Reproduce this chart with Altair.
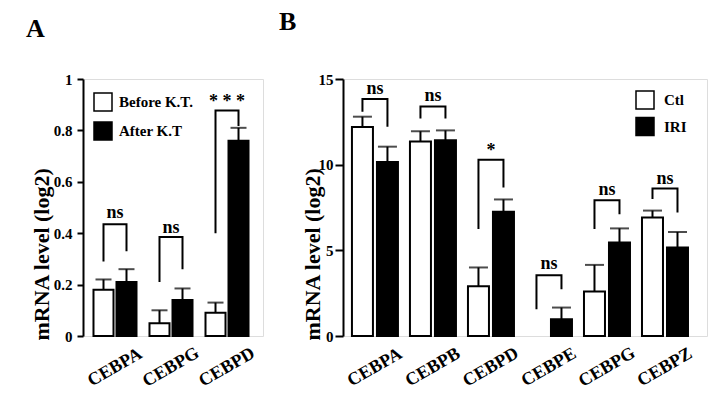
import altair as alt
import pandas as pd

FONT = "Liberation Serif, Times New Roman, serif"

# ---------------- Panel A ----------------
genes_a = ["CEBPA", "CEBPG", "CEBPD"]
groups_a = ["Before K.T.", "After K.T"]
before_kt = [0.18, 0.05, 0.09]
before_kt_err = [0.04, 0.05, 0.04]
after_kt = [0.21, 0.14, 0.76]
after_kt_err = [0.05, 0.045, 0.05]
bracket_a_left = [0.29, 0.21, 0.40]
bracket_a_top = [0.435, 0.385, 0.877]
bracket_a_right = [0.33, 0.26, 0.817]
sig_a = ["ns", "ns", "* * *"]
sig_a_y = [0.478, 0.42, 0.91]
ticks_a = [0, 0.2, 0.4, 0.6, 0.8, 1]

# ---------------- Panel B ----------------
genes_b = ["CEBPA", "CEBPB", "CEBPD", "CEBPE", "CEBPG", "CEBPZ"]
groups_b = ["Ctl", "IRI"]
ctl = [12.2, 11.35, 2.9, None, 2.6, 6.92]
ctl_err = [0.6, 0.6, 1.1, None, 1.55, 0.4]
iri = [10.15, 11.42, 7.25, 0.98, 5.46, 5.17]
iri_err = [0.9, 0.58, 0.72, 0.68, 0.82, 0.9]
bracket_b_left = [13.09, 12.7, 6.24, 1.56, 6.24, 7.99]
bracket_b_top = [13.83, 13.4, 10.29, 3.55, 7.93, 8.61]
bracket_b_right = [12.21, 12.7, 8.67, 2.73, 7.11, 7.21]
sig_b = ["ns", "ns", "*", "ns", "ns", "ns"]
sig_b_y = [14.42, 14.0, 10.8, 4.19, 8.53, 9.16]
ticks_b = [0, 5, 10, 15]


def panel(letter, genes, groups, v0, e0, v1, e1, bl, bt, br, sig, sig_y,
          ymax, yticks, fmt, width, height, x_pi, x_po, x_align, off_pi,
          cap, legend_x, legend_y, row_pad, label_off, title_x, tick_size,
          label_pad, letter_dx, letter_offset):
    rows = []
    for i, g in enumerate(genes):
        for grp, vals, errs in ((groups[0], v0, e0), (groups[1], v1, e1)):
            v = vals[i]
            e = errs[i]
            rows.append({
                "gene": g, "group": grp, "value": v,
                "top": (v + e) if (v is not None and e is not None) else None,
            })
    bars_df = pd.DataFrame(rows)

    br_rows = []
    for i, g in enumerate(genes):
        br_rows += [
            {"gene": g, "group": groups[0], "value": bl[i], "ord": 0},
            {"gene": g, "group": groups[0], "value": bt[i], "ord": 1},
            {"gene": g, "group": groups[1], "value": bt[i], "ord": 2},
            {"gene": g, "group": groups[1], "value": br[i], "ord": 3},
        ]
    br_df = pd.DataFrame(br_rows)
    sig_df = pd.DataFrame({"gene": genes, "sig": sig, "value": sig_y})

    x_enc = alt.X(
        "gene:N",
        scale=alt.Scale(domain=genes, paddingInner=x_pi, paddingOuter=x_po, align=x_align),
        axis=alt.Axis(title=None, labelAngle=-30, labelAlign="center",
                      labelBaseline="middle", labelPadding=31, ticks=False,
                      domain=False, labelFont=FONT, labelFontWeight="bold",
                      labelFontSize=18, labelColor="black"),
    )
    xoff = alt.XOffset("group:N", scale=alt.Scale(domain=groups, paddingInner=off_pi, paddingOuter=0))
    y_scale = alt.Scale(domain=[0, ymax], nice=False, zero=True)
    y_axis = alt.Axis(
        values=yticks, format=fmt, title="mRNA level (log2)", grid=False,
        labelFont=FONT, labelFontWeight="bold", labelFontSize=15, labelColor="black",
        labelPadding=label_pad, tickSize=tick_size, tickWidth=2, tickColor="black",
        domainColor="black", domainWidth=2,
        titleFont=FONT, titleFontWeight="bold", titleFontSize=22, titleColor="black",
        titleAngle=-90, titleAlign="left", titleBaseline="middle",
        titleX=title_x, titleY=height + 4,
    )

    bars = alt.Chart(bars_df).mark_bar(stroke="black", strokeWidth=2, strokeJoin="miter").encode(
        x=x_enc, xOffset=xoff,
        y=alt.Y("value:Q", scale=y_scale, axis=y_axis),
        fill=alt.Fill("group:N", scale=alt.Scale(domain=groups, range=["white", "black"]),
                      legend=alt.Legend(title=None, orient="none", legendX=legend_x,
                                        legendY=legend_y, symbolType="square",
                                        symbolSize=324, symbolStrokeColor="black",
                                        symbolStrokeWidth=1.5, labelFont=FONT,
                                        labelFontWeight="bold", labelFontSize=15,
                                        labelColor="black", rowPadding=row_pad,
                                        labelOffset=label_off, padding=0)),
    )
    err_rule = alt.Chart(bars_df).mark_rule(color="black", strokeWidth=2).encode(
        x=x_enc, xOffset=xoff,
        y=alt.Y("value:Q", scale=y_scale, axis=y_axis), y2="top:Q",
    )
    err_cap = alt.Chart(bars_df).mark_tick(color="black", thickness=2, size=cap).encode(
        x=x_enc, xOffset=xoff,
        y=alt.Y("top:Q", scale=y_scale, axis=y_axis),
    )
    brackets = alt.Chart(br_df).mark_line(color="black", strokeWidth=2, strokeJoin="miter").encode(
        x=x_enc, xOffset=xoff,
        y=alt.Y("value:Q", scale=y_scale, axis=y_axis),
        detail="gene:N", order="ord:Q",
    )
    texts = alt.Chart(sig_df).mark_text(font=FONT, fontWeight="bold", fontSize=18,
                                        baseline="middle", color="black").encode(
        x=x_enc,
        y=alt.Y("value:Q", scale=y_scale, axis=y_axis),
        text="sig:N",
    )
    return alt.layer(bars, err_rule, err_cap, brackets, texts).properties(
        width=width, height=height,
        title=alt.TitleParams(letter, anchor="start", frame="group", dx=letter_dx,
                              offset=letter_offset, fontSize=26, font=FONT,
                              fontWeight="bold", baseline="alphabetic", color="black"),
    )


chart_a = panel("A", genes_a, groups_a, before_kt, before_kt_err, after_kt, after_kt_err,
                bracket_a_left, bracket_a_top, bracket_a_right, sig_a, sig_a_y,
                1, ticks_a, ".1~f", 180, 257, 0.232, 0.223, 0.42, 0.13,
                16, 10, 13, 5, 6, -42, 6, 5, -57, 9)

chart_b = panel("B", genes_b, groups_b, ctl, ctl_err, iri, iri_err,
                bracket_b_left, bracket_b_top, bracket_b_right, sig_b, sig_b_y,
                15, ticks_b, "d", 364, 257, 0.207, 0.241, 0.32, 0.16,
                19, 292, 11, 2.5, 9, -31, 8, 2, -64, 16)

chart = alt.hconcat(chart_a, chart_b, spacing=14).resolve_scale(
    x="independent", y="independent", xOffset="independent", fill="independent"
).resolve_legend(fill="independent").properties(
    padding={"left": 17, "top": 0, "right": 0, "bottom": 0}
).configure_view(stroke="black", strokeWidth=2).configure(background="white")

chart.save("out.html", embed_options={"renderer": "svg", "actions": False})
